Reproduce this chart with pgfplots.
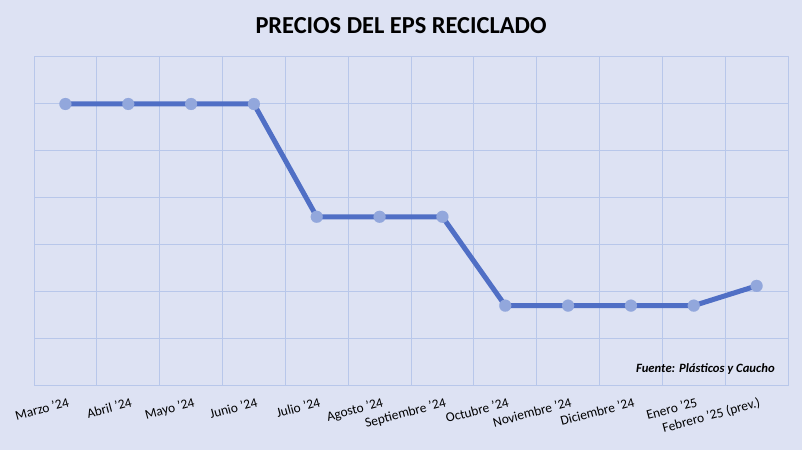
\documentclass[border=0pt]{standalone}
\usepackage{pgfplots}
\pgfplotsset{compat=1.18}
\usepackage{fontspec}
\setmainfont{Carlito}
\definecolor{bgc}{RGB}{221,226,243}
\definecolor{gridc}{RGB}{184,199,234}
\definecolor{linec}{RGB}{80,111,197}
\definecolor{markc}{RGB}{146,167,220}
\begin{document}
\begin{tikzpicture}[x=1bp,y=1bp]
\fill[bgc] (0,0) rectangle (802,450);
\useasboundingbox (0,0) rectangle (802,450);
\node[font=\fontsize{24.5}{27}\selectfont\bfseries] at (401,424.5) {PRECIOS DEL EPS RECICLADO};
\begin{axis}[
  at={(34bp,64bp)}, anchor=south west,
  scale only axis, width=754bp, height=329bp,
  xmin=-0.5, xmax=11.5, ymin=0, ymax=7,
  xtick={0,...,11},
  xticklabels={Marzo '24,Abril '24,Mayo '24,Junio '24,Julio '24,Agosto '24,Septiembre '24,Octubre '24,Noviembre '24,Diciembre '24,Enero '25,Febrero '25 (prev.)},
  minor xtick={-0.5,0.5,...,11.5},
  ytick={0,1,...,7}, yticklabels={},
  xmajorgrids=false, xminorgrids=true, ymajorgrids=true,
  grid style={gridc, line width=1bp},
  minor grid style={gridc, line width=1bp},
  axis line style={gridc, line width=1bp},
  major tick length=0pt, minor tick length=0pt,
  x tick label style={rotate=15, anchor=north east, font=\fontsize{13.5}{15}\selectfont, inner sep=1bp, yshift=-10bp, xshift=0bp},
  clip=false,
]
\addplot[linec, line width=5bp, mark=*, mark size=6bp, mark options={solid, draw=markc, fill=markc, line width=0.1bp}] coordinates {
(0,6) (1,6) (2,6) (3,6) (4,3.6) (5,3.6) (6,3.6) (7,1.71) (8,1.71) (9,1.71) (10,1.71) (11,2.13)
};
\node[anchor=east, font=\fontsize{12.7}{14}\selectfont\bfseries\itshape] at (rel axis cs:0.987,0.052) {Fuente: Plásticos y Caucho};
\end{axis}
\end{tikzpicture}
\end{document}
